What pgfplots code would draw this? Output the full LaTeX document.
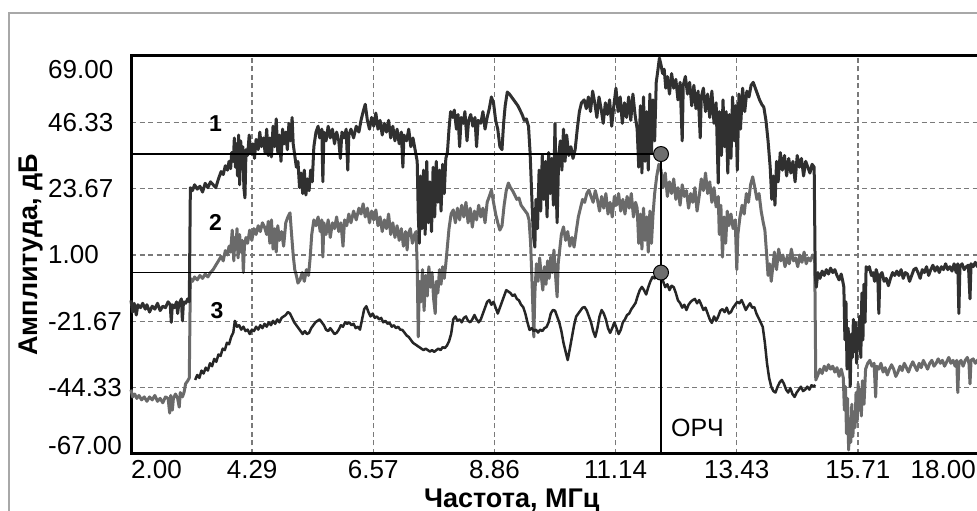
\documentclass[border=0pt]{standalone}
\usepackage{pgfplots}
\pgfplotsset{compat=1.18}
\usepackage{fontspec}
\setmainfont{Liberation Sans}
\definecolor{sA}{HTML}{303030}
\definecolor{sB}{HTML}{6A6A6A}
\definecolor{sC}{HTML}{262626}
\definecolor{gridc}{HTML}{7A7A7A}
\definecolor{mk}{HTML}{6E6E6E}
\definecolor{frm}{HTML}{A8A8A8}
\begin{document}
\begin{tikzpicture}[x=1pt,y=1pt]
\fill[white] (0,0) rectangle (977,511);
\draw[frm, line width=2pt] (9,0) -- (9,498) -- (980,498);
\begin{axis}[
  at={(131pt,57pt)}, anchor=south west,
  scale only axis, width=848pt, height=398pt,
  xmin=2, xmax=18, ymin=-67, ymax=69,
  clip=false,
  xtick={2,4.2857,6.5714,8.8571,11.1429,13.4286,15.7143,18},
  ytick={-67,-44.333,-21.667,1,23.667,46.333,69},
  xticklabels={,4.29,6.57,8.86,11.14,13.43,15.71,},
  yticklabels={,-44.33,-21.67,1.00,23.67,46.33,},
  major tick length=0pt,
  grid=major,
  major grid style={gridc, line width=1.4pt, dash pattern=on 5pt off 3.5pt},
  axis line style={black, line width=3pt},
  tick label style={font=\fontsize{26}{30}\selectfont, inner sep=0pt},
  xticklabel style={anchor=north, yshift=-6pt},
  yticklabel style={anchor=west, xshift=-83pt},
  xlabel={Частота, МГц},
  ylabel={Амплитуда, дБ},
  xlabel style={at={(axis description cs:0.449,-0.1332)}, anchor=base, font=\fontsize{27}{30}\selectfont\bfseries, inner sep=0pt},
  ylabel style={at={(axis description cs:-0.1097,0.5)}, anchor=base, font=\fontsize{27}{30}\selectfont\bfseries, inner sep=0pt},
]
% series 2 (grey)
\addplot[sB, line width=3pt, line join=round] coordinates {
(2.00,-45) (2.03,-47.5) (2.07,-46.5) (2.11,-48) (2.15,-47) (2.20,-48.5) (2.25,-47.5) (2.30,-49) (2.35,-47.5) (2.40,-48.5)
(2.45,-47) (2.50,-49) (2.55,-48) (2.60,-49.5) (2.65,-47.5) (2.70,-48) (2.73,-53) (2.75,-47) (2.78,-52) (2.80,-48)
(2.84,-46.5) (2.88,-48) (2.91,-51) (2.93,-46) (2.97,-47.5) (3.00,-46) (3.03,-43) (3.07,-42) (3.10,-41) (3.12,-7)
(3.16,-8) (3.20,-6.5) (3.25,-7.5) (3.30,-6) (3.35,-7) (3.40,-5.5) (3.45,-6.5) (3.50,-5) (3.55,-4) (3.60,-2.5)
(3.65,-1) (3.70,0.5) (3.74,-1) (3.78,2.5) (3.82,1) (3.85,4) (3.88,2) (3.91,9.5) (3.94,-1) (3.96,7)
(3.98,3) (4.00,10) (4.02,0) (4.05,8) (4.07,2) (4.10,6) (4.12,-5) (4.14,4) (4.17,7) (4.20,5)
(4.24,9.5) (4.28,6) (4.32,10) (4.36,8) (4.40,11) (4.44,9) (4.48,12) (4.52,10.5)
(4.56,8) (4.59,12.5) (4.62,5) (4.65,13) (4.68,3) (4.71,10) (4.74,2) (4.77,11) (4.80,6) (4.84,9)
(4.88,4) (4.92,12) (4.96,14) (5.00,15.4) (5.03,8) (5.06,1) (5.09,-4) (5.12,-6) (5.15,-8.6) (5.19,-7.5)
(5.23,-5) (5.27,-8) (5.31,-4) (5.35,-6) (5.38,0) (5.41,8) (5.45,13) (5.49,11) (5.53,14) (5.57,9)
(5.60,13) (5.62,0.3) (5.64,12) (5.68,8) (5.72,13) (5.76,7) (5.80,12) (5.84,10) (5.88,14) (5.92,9)
(5.96,12) (6.00,4) (6.03,13) (6.07,11) (6.11,15) (6.15,12) (6.20,16) (6.25,13) (6.30,17) (6.34,15)
(6.38,18.5) (6.42,14) (6.46,17) (6.50,12) (6.54,16) (6.58,13) (6.62,16.4) (6.66,11) (6.70,14) (6.74,9)
(6.78,13) (6.82,10) (6.86,15) (6.90,8) (6.94,12) (6.98,7) (7.02,11) (7.06,6) (7.10,10) (7.14,4)
(7.18,9) (7.21,2.7) (7.23,8) (7.27,10) (7.31,5) (7.35,8)
(7.38,9) (7.40,-3) (7.42,-27) (7.44,-8) (7.47,-15) (7.50,-4) (7.53,-18) (7.56,-6) (7.59,-13) (7.62,-3)
(7.65,-10) (7.68,-5) (7.71,-14) (7.74,-19) (7.76,-8) (7.79,-12) (7.82,-4) (7.85,-9) (7.88,-3) (7.91,-7)
(7.94,-2) (7.97,4) (8.00,10) (8.04,15) (8.08,16.4) (8.12,12) (8.16,17) (8.20,13) (8.24,18) (8.28,14)
(8.32,19) (8.36,12) (8.40,17) (8.44,10.5) (8.48,16) (8.52,13) (8.56,18) (8.60,14) (8.64,17) (8.68,12)
(8.72,19) (8.76,21) (8.80,23.2) (8.84,19) (8.88,15) (8.92,12) (8.96,9.5) (9.00,11) (9.04,18) (9.08,23)
(9.12,25.6) (9.16,24) (9.20,23) (9.24,21.5) (9.28,20) (9.32,20.5) (9.36,18) (9.40,17) (9.44,16) (9.48,15)
(9.51,13) (9.54,5) (9.57,-10) (9.60,-27) (9.62,-12) (9.65,-2) (9.68,-8) (9.71,0) (9.74,-6) (9.77,-11)
(9.80,-3) (9.83,-9) (9.86,-1) (9.89,-7) (9.92,0.3) (9.95,-5) (9.98,2.7) (10.01,-6) (10.04,-13.3) (10.06,-2)
(10.09,3) (10.12,8) (10.16,10.6) (10.20,6) (10.24,9) (10.28,4) (10.32,7) (10.36,3.7) (10.40,9) (10.44,14)
(10.48,17) (10.52,20) (10.56,19) (10.60,22) (10.64,23.2) (10.68,21) (10.72,19) (10.76,23) (10.80,20) (10.84,16)
(10.88,21) (10.92,17) (10.96,22) (11.00,15) (11.04,19) (11.08,14) (11.12,21) (11.16,18) (11.20,22) (11.24,16)
(11.28,20) (11.32,15) (11.36,21) (11.40,17) (11.44,22) (11.48,14) (11.52,19) (11.55,17) (11.58,5) (11.61,15)
(11.64,3) (11.67,17) (11.70,6) (11.73,14) (11.76,2) (11.79,16) (11.82,5) (11.85,15) (11.88,22) (11.92,28)
(11.96,32) (12.00,30) (12.04,24) (12.08,29) (12.12,21) (12.16,26) (12.20,22) (12.24,27) (12.28,20) (12.32,24)
(12.36,18) (12.40,25) (12.44,21) (12.48,23) (12.52,17) (12.56,22) (12.60,19) (12.64,24) (12.68,16) (12.72,21)
(12.76,27) (12.80,23) (12.84,29) (12.88,22) (12.92,26) (12.96,19) (13.00,24) (13.04,17.4) (13.08,21) (13.10,8)
(13.13,18) (13.16,0.3) (13.19,14) (13.22,5) (13.25,16) (13.28,11) (13.32,15) (13.36,10) (13.40,13) (13.43,-4)
(13.45,8) (13.49,14) (13.53,18) (13.57,15) (13.61,22) (13.65,19) (13.69,25) (13.73,27.7) (13.77,24) (13.81,20)
(13.85,22) (13.89,16) (13.93,12) (13.96,9.5) (13.99,2) (14.02,-6) (14.05,-2) (14.08,-8) (14.11,-3) (14.14,2)
(14.18,-4) (14.22,3) (14.26,-1) (14.30,1) (14.34,-3) (14.38,0.3) (14.42,-2) (14.46,3) (14.50,-1) (14.54,0)
(14.58,-3) (14.62,1) (14.66,-1.5) (14.70,2) (14.74,-2) (14.78,0) (14.82,-1) (14.86,1) (14.90,0) (14.92,-41.7)
(14.96,-40) (15.00,-38) (15.04,-39.5) (15.08,-37) (15.12,-38.5) (15.16,-36.5) (15.20,-38) (15.24,-37) (15.28,-39) (15.32,-37.5)
(15.36,-40.5) (15.40,-38) (15.44,-41) (15.46,-52) (15.48,-44) (15.50,-60) (15.52,-48) (15.54,-65.6) (15.56,-55) (15.58,-63)
(15.60,-50) (15.62,-61) (15.64,-54) (15.66,-58) (15.68,-46) (15.70,-56) (15.72,-43) (15.74,-52) (15.76,-45) (15.78,-54)
(15.80,-42) (15.83,-50) (15.86,-38) (15.90,-36) (15.94,-35) (15.98,-37) (16.02,-36) (16.05,-47.5) (16.07,-37) (16.11,-38)
(16.15,-36) (16.19,-39) (16.23,-37.5) (16.27,-40) (16.31,-38) (16.35,-36.5) (16.39,-38) (16.43,-40.5) (16.47,-39) (16.51,-37)
(16.55,-38.5) (16.59,-36) (16.63,-37.5) (16.67,-39) (16.71,-37) (16.75,-35.5) (16.79,-37) (16.83,-38.5) (16.87,-36) (16.91,-37.5)
(16.95,-35) (16.99,-36.5) (17.03,-38) (17.07,-36) (17.11,-35) (17.15,-37) (17.19,-36) (17.23,-34.5) (17.27,-36) (17.31,-35)
(17.35,-37) (17.39,-35.5) (17.43,-34) (17.47,-36) (17.51,-35) (17.55,-37) (17.58,-35) (17.60,-46) (17.62,-36) (17.66,-35)
(17.70,-37) (17.74,-35) (17.78,-34) (17.81,-36) (17.83,-43) (17.85,-35) (17.89,-34.5) (17.93,-36) (17.97,-35) (18.00,-34.5)
};
% series 1 (dark)
\addplot[sA, line width=3pt, line join=round] coordinates {
(2.00,-14.5) (2.03,-18.5) (2.06,-15.5) (2.10,-19.5) (2.13,-16) (2.18,-17) (2.22,-15.5) (2.27,-17.5) (2.30,-16) (2.35,-18.5)
(2.40,-16.5) (2.45,-17.5) (2.50,-15.5) (2.55,-18) (2.60,-16.5) (2.65,-17) (2.70,-15) (2.74,-16) (2.76,-22) (2.78,-16)
(2.82,-17) (2.86,-15) (2.88,-19) (2.90,-16) (2.95,-14) (2.97,-21.5) (2.99,-15) (3.03,-15.5) (3.07,-14) (3.10,-15)
(3.12,24) (3.16,23) (3.20,25) (3.25,23.5) (3.30,24.5) (3.35,22.5) (3.40,25.5) (3.45,24) (3.50,26) (3.55,25)
(3.60,24) (3.65,27) (3.70,29.5) (3.74,28.5) (3.78,31.5) (3.82,30) (3.85,33) (3.88,30.5) (3.90,36) (3.93,33)
(3.95,41) (3.97,31) (3.99,39) (4.01,28) (4.03,42) (4.05,25) (4.07,40) (4.09,33) (4.11,38) (4.13,24)
(4.15,20.5) (4.17,37) (4.20,35) (4.23,42) (4.26,36) (4.30,39) (4.33,34) (4.36,40.5) (4.40,37) (4.43,43)
(4.46,38) (4.50,41) (4.53,36) (4.56,44) (4.59,35) (4.62,41) (4.65,34.5) (4.68,45) (4.71,38) (4.74,47.5)
(4.77,36) (4.80,42) (4.83,33) (4.86,44) (4.89,39) (4.92,43) (4.95,37) (4.98,46) (5.01,40) (5.04,48)
(5.06,39) (5.09,35) (5.12,31) (5.15,33) (5.18,24) (5.21,29) (5.24,22) (5.27,30) (5.30,21.5) (5.33,27)
(5.36,23) (5.39,30) (5.42,26) (5.45,38) (5.49,43) (5.53,45) (5.56,41) (5.60,44) (5.62,26) (5.64,43)
(5.68,40) (5.72,45) (5.76,41) (5.80,44) (5.84,39) (5.88,43) (5.92,40) (5.95,34) (5.98,43) (6.02,41)
(6.06,44) (6.09,30) (6.11,42) (6.15,44) (6.20,41) (6.25,45) (6.30,43) (6.34,47) (6.38,50) (6.42,52.5)
(6.46,47) (6.50,44) (6.54,48) (6.58,45) (6.62,49.5) (6.66,44) (6.70,47) (6.74,42) (6.78,46) (6.82,43)
(6.86,47) (6.90,41) (6.94,45) (6.98,40) (7.02,44) (7.06,39) (7.10,43) (7.13,31) (7.15,42) (7.20,40)
(7.24,44) (7.28,38) (7.32,41) (7.36,37) (7.40,33) (7.42,15) (7.44,5) (7.46,28) (7.49,10) (7.52,30)
(7.55,8) (7.58,33) (7.61,12) (7.64,26) (7.67,9) (7.70,31) (7.73,14) (7.76,33) (7.79,19) (7.82,30)
(7.85,16) (7.88,32) (7.91,22) (7.94,34) (7.97,36) (8.00,44) (8.03,50) (8.07,48) (8.10,50.5) (8.14,44)
(8.17,49) (8.20,38) (8.23,48) (8.27,46) (8.30,50) (8.34,40) (8.37,47) (8.41,49) (8.45,45) (8.49,48)
(8.52,38) (8.55,47) (8.60,46) (8.64,50) (8.68,44) (8.72,48) (8.76,51) (8.80,55) (8.84,53) (8.88,47)
(8.92,44) (8.96,38) (9.00,37) (9.03,46) (9.06,52) (9.10,56.7) (9.14,56) (9.18,55) (9.22,54) (9.26,53)
(9.30,52) (9.34,50.5) (9.38,49) (9.42,47) (9.46,47.5) (9.50,45) (9.53,36) (9.56,22) (9.59,8) (9.62,3.7)
(9.64,20) (9.67,10) (9.70,30) (9.73,16) (9.76,35) (9.79,20) (9.82,33) (9.85,14) (9.88,36) (9.91,22)
(9.94,34) (9.97,18) (10.00,46) (10.02,25) (10.04,12) (10.07,35) (10.10,40) (10.13,30) (10.16,44) (10.19,33)
(10.22,42) (10.26,35) (10.30,38) (10.34,34) (10.38,37) (10.42,44) (10.46,50) (10.50,53) (10.55,54) (10.59,51)
(10.63,55) (10.67,50) (10.71,57) (10.75,53) (10.79,48) (10.83,55) (10.87,51) (10.91,46) (10.95,53) (10.99,49)
(11.03,54) (11.07,45) (11.11,52) (11.15,58) (11.19,50) (11.23,55) (11.27,46) (11.31,53) (11.35,48) (11.39,55)
(11.43,47) (11.47,56) (11.51,49) (11.55,44) (11.58,31) (11.61,52) (11.64,29) (11.67,55) (11.70,33) (11.73,50)
(11.76,30) (11.79,56) (11.82,36) (11.85,54) (11.88,40) (11.91,60) (11.94,64) (11.97,68.3) (12.00,66) (12.03,63)
(12.06,64.5) (12.09,58) (12.12,62) (12.16,56) (12.20,63) (12.24,58) (12.28,61) (12.32,54) (12.36,60) (12.40,40)
(12.42,59) (12.46,62) (12.50,56) (12.54,60) (12.58,52) (12.62,59) (12.66,51) (12.70,57) (12.74,41) (12.76,55)
(12.80,58) (12.84,50) (12.88,56) (12.92,48) (12.96,57) (13.00,46) (13.04,53) (13.08,25.6) (13.10,50) (13.14,35)
(13.17,54) (13.20,38) (13.23,50) (13.26,29) (13.29,49) (13.32,34) (13.35,55) (13.38,40) (13.41,52) (13.44,30)
(13.47,56) (13.50,44) (13.54,58) (13.58,50) (13.62,57) (13.66,55) (13.70,59) (13.74,60) (13.78,58) (13.82,56)
(13.86,54) (13.90,52.5) (13.94,51.5) (13.98,47) (14.02,40) (14.06,31) (14.09,20) (14.12,28) (14.15,18) (14.18,33)
(14.21,26) (14.25,36) (14.29,30) (14.33,35) (14.37,28) (14.41,34) (14.45,29) (14.49,33) (14.53,26) (14.57,35)
(14.61,31) (14.65,34) (14.69,28) (14.73,33) (14.77,31) (14.81,29) (14.85,32) (14.89,31) (14.91,-6) (14.93,-10)
(14.96,-5) (15.00,-7) (15.04,-4.5) (15.08,-6) (15.12,-4) (15.16,-5.5) (15.20,-3.5) (15.24,-5) (15.28,-4) (15.32,-6)
(15.36,-7.5) (15.40,-5.5) (15.43,-8) (15.45,-10) (15.47,-28) (15.49,-15) (15.51,-38) (15.53,-24) (15.55,-30) (15.57,-44)
(15.59,-26) (15.61,-34) (15.63,-21) (15.65,-32) (15.67,-22) (15.69,-36) (15.71,-24) (15.73,-31) (15.75,-20) (15.77,-34)
(15.79,-12) (15.81,-28) (15.83,-9) (15.85,-22) (15.87,-3) (15.90,-4) (15.93,-3) (15.97,-6) (16.00,-5) (16.03,-8)
(16.06,-4) (16.09,-6) (16.11,-19) (16.13,-6) (16.17,-5) (16.21,-8) (16.25,-7) (16.29,-9.5) (16.33,-7) (16.37,-5)
(16.41,-6) (16.45,-4.5) (16.49,-6) (16.53,-4) (16.57,-7) (16.61,-5) (16.65,-5.5) (16.69,-8) (16.73,-6) (16.77,-4)
(16.81,-3.5) (16.85,-5) (16.89,-7) (16.93,-4) (16.97,-5) (17.01,-3) (17.05,-6) (17.09,-4) (17.13,-2.5) (17.17,-4.5)
(17.21,-3) (17.25,-5) (17.29,-3) (17.33,-4) (17.37,-2) (17.41,-4) (17.45,-3) (17.49,-4.5) (17.53,-2) (17.57,-5)
(17.60,-2) (17.62,-19) (17.64,-3) (17.68,-2) (17.72,-4) (17.76,-3) (17.80,-2.5) (17.83,-14) (17.85,-2) (17.89,-3)
(17.93,-1.5) (17.97,-3) (18.00,-2)
};
% series 3
\addplot[sC, line width=2.5pt, line join=round] coordinates {
(3.21,-41.7) (3.25,-40) (3.29,-41) (3.33,-38.5) (3.37,-39.5) (3.41,-37.5) (3.45,-38.5) (3.49,-36) (3.53,-37) (3.57,-34.5)
(3.61,-35.5) (3.65,-33) (3.69,-33.5) (3.73,-31) (3.77,-31.5) (3.81,-29) (3.85,-29.5) (3.89,-27) (3.93,-25.5) (3.96,-21.5)
(4.00,-23.5) (4.04,-23) (4.08,-24.5) (4.12,-23.5) (4.16,-25) (4.20,-24.5) (4.24,-26) (4.28,-24.5) (4.32,-25) (4.36,-23.5)
(4.40,-24.5) (4.44,-23) (4.48,-24) (4.52,-22.5) (4.56,-23.5) (4.60,-22) (4.64,-23) (4.68,-21.5) (4.72,-22.5) (4.76,-21)
(4.80,-22) (4.84,-20.5) (4.88,-20) (4.92,-19.5) (4.96,-18.5) (5.00,-19) (5.04,-20.5) (5.08,-22) (5.12,-23) (5.16,-24)
(5.20,-25) (5.24,-26) (5.28,-25) (5.32,-26) (5.36,-25.6) (5.40,-24) (5.44,-23) (5.48,-22) (5.52,-21.5) (5.56,-21)
(5.60,-22) (5.64,-23) (5.68,-24.5) (5.72,-25) (5.76,-24) (5.80,-25) (5.84,-26) (5.88,-25.6) (5.92,-24.5) (5.96,-23)
(6.00,-23.5) (6.04,-22) (6.08,-22.5) (6.12,-22) (6.16,-23) (6.20,-22.5) (6.24,-24) (6.28,-23.5) (6.32,-24.5) (6.36,-21)
(6.40,-17.5) (6.44,-16.5) (6.48,-18.5) (6.52,-20) (6.56,-19) (6.60,-20.5) (6.64,-20) (6.68,-21) (6.72,-20.5) (6.76,-22)
(6.80,-21.5) (6.84,-22.5) (6.88,-22.2) (6.92,-23.5) (6.96,-23) (7.00,-24) (7.04,-23.5) (7.08,-24.5) (7.12,-24.6) (7.16,-25.5)
(7.20,-26.5) (7.24,-27) (7.28,-28) (7.32,-29) (7.36,-29.5) (7.40,-30) (7.44,-30.5) (7.48,-31) (7.52,-31.5) (7.56,-31)
(7.60,-31.5) (7.64,-32) (7.68,-31.5) (7.72,-32.1) (7.76,-31.5) (7.80,-31) (7.84,-31.5) (7.88,-30.5) (7.92,-30.8) (7.96,-30)
(8.00,-28.5) (8.04,-26) (8.08,-21) (8.12,-20) (8.16,-21.5) (8.20,-21) (8.24,-22) (8.28,-20.5) (8.32,-20) (8.36,-21.5)
(8.40,-22) (8.44,-21) (8.48,-19.5) (8.52,-21) (8.56,-22) (8.60,-21) (8.64,-19) (8.68,-17) (8.72,-15) (8.76,-14.4)
(8.80,-16) (8.84,-15) (8.88,-17) (8.92,-19) (8.96,-17) (9.00,-15) (9.04,-13) (9.08,-11) (9.12,-11.5) (9.16,-12)
(9.20,-13) (9.24,-12.5) (9.28,-14) (9.32,-14.5) (9.36,-16) (9.40,-16.8) (9.44,-19) (9.48,-22) (9.52,-24.6) (9.56,-24)
(9.60,-25) (9.64,-24.5) (9.68,-25.5) (9.72,-24.5) (9.76,-25) (9.80,-24) (9.84,-23.6) (9.88,-22) (9.92,-19) (9.96,-17.8)
(10.00,-18) (10.04,-20) (10.08,-22) (10.12,-25) (10.16,-29) (10.20,-32) (10.24,-34.9) (10.28,-31) (10.32,-27) (10.36,-23)
(10.40,-20) (10.44,-19) (10.48,-18) (10.52,-17) (10.56,-16.8) (10.60,-18) (10.64,-20) (10.68,-22) (10.72,-25) (10.76,-27)
(10.80,-24) (10.84,-20) (10.88,-17.8) (10.92,-19) (10.96,-21) (11.00,-24) (11.04,-25.6) (11.08,-24) (11.12,-22) (11.16,-24)
(11.20,-26) (11.24,-24.6) (11.28,-22) (11.32,-21) (11.36,-19.5) (11.40,-19) (11.44,-17.5) (11.48,-16.5) (11.52,-15.4) (11.56,-13)
(11.60,-11) (11.64,-9.9) (11.68,-11) (11.72,-12.5) (11.76,-10) (11.80,-8) (11.84,-6.5) (11.88,-7) (11.92,-5) (11.96,-4)
(12.00,-5.5) (12.04,-8) (12.08,-10) (12.12,-9) (12.16,-11) (12.20,-9.5) (12.24,-10) (12.28,-12) (12.32,-14.5) (12.36,-15.4)
(12.40,-17) (12.44,-16) (12.48,-17.8) (12.52,-16) (12.56,-15) (12.60,-14.4) (12.64,-14) (12.68,-15.5) (12.72,-14.4) (12.76,-16)
(12.80,-17.8) (12.84,-17) (12.88,-19) (12.92,-21) (12.96,-22.2) (13.00,-20) (13.04,-21.5) (13.08,-20) (13.12,-18) (13.16,-17.5)
(13.20,-18.5) (13.24,-17) (13.28,-19) (13.32,-18.5) (13.36,-17) (13.40,-16) (13.44,-15) (13.48,-15.5) (13.52,-14.4) (13.56,-16)
(13.60,-17.8) (13.64,-16.5) (13.68,-15.5) (13.72,-17) (13.76,-16.8) (13.80,-19) (13.84,-20.5) (13.88,-22) (13.92,-23.6) (13.96,-29)
(14.00,-36) (14.04,-41) (14.08,-44) (14.12,-45.5) (14.16,-46) (14.20,-44) (14.24,-42.5) (14.28,-41.7) (14.32,-43) (14.36,-45)
(14.40,-46) (14.44,-44.5) (14.48,-46.5) (14.52,-47.5) (14.56,-46) (14.60,-45) (14.64,-44) (14.68,-45.5) (14.72,-45) (14.76,-44)
(14.80,-45) (14.84,-43.5) (14.88,-44) (14.91,-43.4)
};
% marker lines
\addplot[black, line width=1.6pt] coordinates {(2,35.5) (12,35.5)};
\addplot[black, line width=1.6pt] coordinates {(2,-5) (12,-5)};
\addplot[black, line width=1.6pt] coordinates {(12,35.5) (12,-67)};
\addplot[only marks, mark=*, mark size=7.5pt, mark options={fill=mk, draw=black, line width=1pt}] coordinates {(12,35.5) (12,-5)};
\end{axis}
% end tick labels
\node[anchor=north west, inner sep=0pt, font=\fontsize{26}{30}\selectfont] at (131,51) {2.00};
\node[anchor=north east, inner sep=0pt, font=\fontsize{26}{30}\selectfont] at (976,51) {18.00};
\node[anchor=north west, inner sep=0pt, font=\fontsize{26}{30}\selectfont] at (48,451) {69.00};
\node[anchor=south west, inner sep=0pt, font=\fontsize{26}{30}\selectfont] at (48,56) {-67.00};
% curve labels
\node[font=\fontsize{23}{25}\selectfont\bfseries, inner sep=0pt] at (215.5,387.5) {1};
\node[font=\fontsize{23}{25}\selectfont\bfseries, inner sep=0pt] at (215.5,288.5) {2};
\node[font=\fontsize{23}{25}\selectfont\bfseries, inner sep=0pt] at (217,200.5) {3};
\node[font=\fontsize{25}{27}\selectfont, inner sep=0pt] at (697.5,83.5) {ОРЧ};
\pgfresetboundingbox
\path[use as bounding box] (0,0) rectangle (977,511);
\end{tikzpicture}
\end{document}
